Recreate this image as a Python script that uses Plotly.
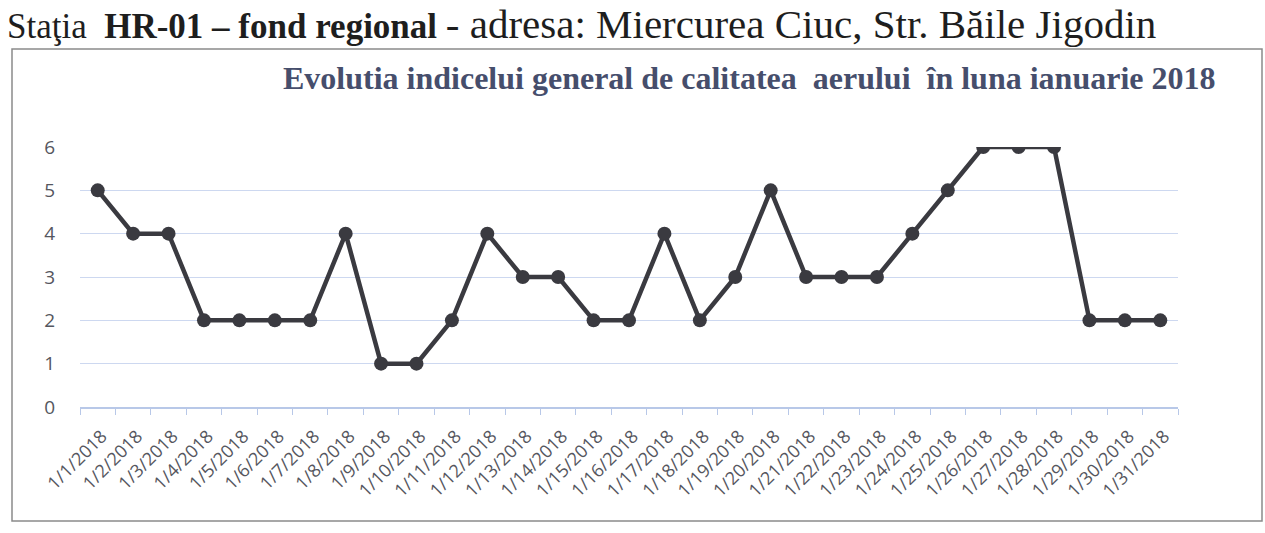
import plotly.graph_objects as go

dates = [f"1/{d}/2018" for d in range(1, 32)]
values = [5, 4, 4, 2, 2, 2, 2, 4, 1, 1, 2, 4, 3, 3, 2, 2, 4, 2, 3, 5,
          3, 3, 3, 4, 5, 6, 6, 6, 2, 2, 2]
y_ticks = [0, 1, 2, 3, 4, 5, 6]

header = ("Staţia&nbsp; <b>HR-01 – fond regional</b> "
          "<span style='font-size:41px'>- adresa: Miercurea Ciuc, Str. Băile Jigodin</span>")
chart_title = "Evolutia indicelui general de calitatea&nbsp; aerului&nbsp; în luna ianuarie 2018"

W, H = 1265, 533
L, R, T, B = 80, 87, 147, 126
PW, PH = W - L - R, H - T - B


def px(x):
    return (x - L) / PW


def py(y):
    return (H - B - y) / PH


fig = go.Figure()
fig.add_trace(go.Scatter(
    x=dates, y=values, mode="lines+markers",
    line=dict(color="#3a3a40", width=4.5),
    marker=dict(color="#3a3a40", size=14),
    showlegend=False,
))

fig.update_layout(
    width=W, height=H,
    margin=dict(l=L, r=R, t=T, b=B),
    paper_bgcolor="white", plot_bgcolor="white",
    font=dict(family="Open Sans", color="#595959"),
    annotations=[
        dict(text=header, xref="paper", yref="paper", x=px(5), y=py(49),
             xanchor="left", yanchor="bottom", showarrow=False,
             font=dict(family="Liberation Serif", size=35, color="#1e1e1e")),
        dict(text="<b>" + chart_title + "</b>", xref="paper", yref="paper",
             x=px(749), y=py(98), xanchor="center", yanchor="bottom", showarrow=False,
             font=dict(family="Liberation Serif", size=32, color="#464e6c")),
    ],
    shapes=[
        dict(type="rect", xref="paper", yref="paper", x0=px(12), x1=px(1262),
             y0=py(521), y1=py(49), line=dict(color="#8a8a8a", width=1.5)),
    ],
)

fig.update_xaxes(
    type="category", tickangle=-45, tickfont=dict(size=18, color="#55565e"),
    showgrid=False, showline=True, linecolor="#b8c8e8", linewidth=1.5,
    ticks="outside", tickson="boundaries", ticklen=6, tickcolor="#b8c8e8",
    range=[-0.5, 30.5], ticklabelshift=4, ticklabelstandoff=10,
)
fig.update_yaxes(
    range=[0, 6], tickvals=y_ticks, tickfont=dict(size=19, color="#55565e"),
    showgrid=True, gridcolor="#cdd8f0", gridwidth=1.2, zeroline=False,
    showline=False, ticklabelstandoff=24,
)

fig.write_html("out.html", config={"displayModeBar": False},
               post_script="document.body.style.margin='0';")
